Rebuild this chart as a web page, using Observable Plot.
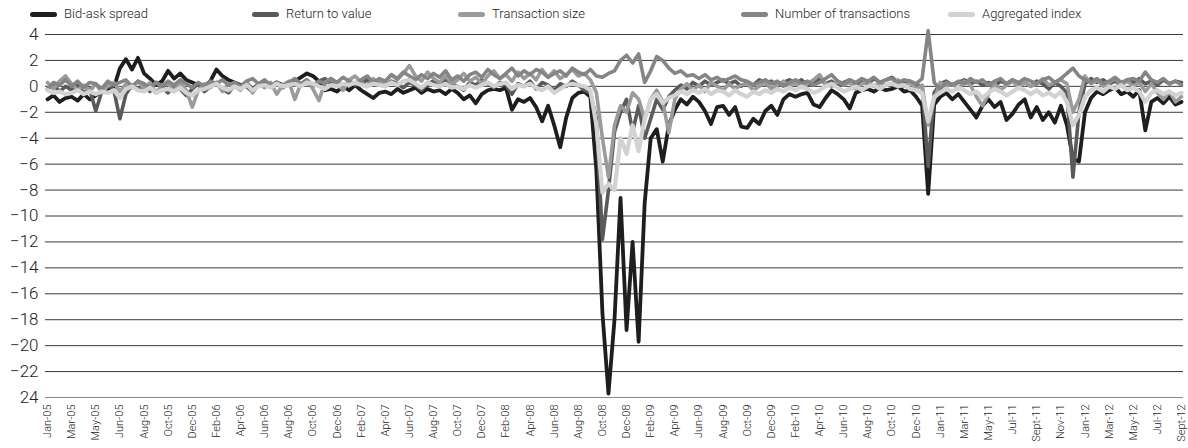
<!DOCTYPE html>
<html><head><meta charset="utf-8">
<script src="https://cdn.jsdelivr.net/npm/d3@7"></script>
<script src="https://cdn.jsdelivr.net/npm/@observablehq/plot@0.6"></script>
<style>
body{margin:0;background:#fff;font-family:Roboto,"Open Sans",sans-serif;}
#wrap{position:relative;width:1188px;height:448px;overflow:hidden;}
#legend{position:absolute;top:0;left:0;width:1188px;height:30px;z-index:2;}
.item{position:absolute;top:6px;display:flex;align-items:center;font-size:13px;line-height:16px;color:#222;font-weight:300;white-space:nowrap;}
.sw{width:27px;height:5px;border-radius:3px;margin-right:7px;}
#chart{position:absolute;top:0;left:0;}
</style></head><body>
<div id="wrap"><div id="legend"></div><div id="chart"></div></div>
<script>
const xLabels = ["Jan-05","Mar-05","May-05","Jun-05","Aug-05","Oct-05","Dec-05","Feb-06","Apr-06","Jun-06","Aug-06","Oct-06","Dec-06","Feb-07","Apr-07","Jun-07","Aug-07","Oct-07","Dec-07","Feb-08","Apr-08","Jun-08","Aug-08","Oct-08","Dec-08","Feb-09","Apr-09","Jun-09","Aug-09","Oct-09","Dec-09","Feb-10","Apr-10","Jun-10","Aug-10","Oct-10","Dec-10","Jan-11","Mar-11","May-11","Jul-11","Sept-11","Nov-11","Jan-12","Mar-12","May-12","Jul-12","Sept-12"];
const yTicks = [4,2,0,-2,-4,-6,-8,-10,-12,-14,-16,-18,-20,-22,-24];
const yTickLabels = ["4","2","0","\u22122","\u22124","\u22126","\u22128","\u221210","\u221212","\u221214","\u221216","\u221218","\u221220","\u221222","24"];
const seriesNames = ["Bid-ask spread","Return to value","Transaction size","Number of transactions","Aggregated index"];
const seriesColors = ["#1e1e1e","#5a5a5a","#9b9b9b","#858585","#d2d2d2"];
const legendLeft = [30, 252, 458, 741, 948];

// values sampled every quarter of a label interval
const bidAsk = [
-1.0,-0.7,-1.2,-0.9, -0.8,-1.1,-0.6,-1.0, -0.7,-0.4,-0.2,-0.1, 1.4,2.1,1.3,2.2,
1.0,0.6,0.1,0.4, 1.2,0.6,1.0,0.5, 0.3,0.1,0.0,0.4, 1.3,0.8,0.5,0.3,
0.1,0.0,-0.4,0.1, 0.2,0.0,0.3,0.1, 0.1,0.4,0.7,1.0, 0.8,0.4,-0.3,-0.2,
-0.4,0.0,-0.3,0.1, -0.3,-0.6,-0.9,-0.5, -0.4,-0.6,-0.2,-0.5, -0.3,-0.1,-0.5,-0.2,
-0.4,-0.3,-0.6,-0.2, -0.5,-1.0,-0.7,-1.3, -0.6,-0.3,-0.2,-0.3, -0.1,-1.8,-1.0,-1.2,
-0.9,-1.6,-2.7,-1.5, -3.0,-4.7,-2.4,-0.9, -0.5,-0.4,-0.8,-6.5, -17.5,-23.7,-18.0,-8.6,
-18.8,-12.0,-19.7,-9.0, -4.0,-3.3,-5.8,-3.0, -1.8,-1.0,-1.4,-0.8, -1.2,-1.9,-2.9,-1.6,
-1.5,-2.2,-1.6,-3.1, -3.2,-2.5,-2.9,-1.9, -1.5,-2.2,-1.0,-0.6, -0.8,-0.6,-0.5,-1.4,
-1.6,-0.9,-0.3,-0.6, -1.0,-1.7,-0.5,-0.3, -0.2,-0.4,-0.1,-0.3, -0.2,0.0,-0.4,-0.3,
-0.8,-1.5,-8.3,-1.4, -0.8,-0.5,-1.0,-0.6, -1.2,-1.8,-2.4,-1.5, -1.0,-1.6,-1.2,-2.6,
-2.1,-1.4,-1.0,-2.4, -1.6,-2.6,-2.0,-2.8, -1.5,-3.0,-5.6,-5.8, -2.0,-0.9,-0.4,-0.6,
-0.3,-0.1,-0.6,-0.4, -0.8,-0.3,-3.4,-1.2, -0.9,-1.3,-0.8,-1.4, -1.2];
const returnToValue = [
-0.2,0.1,-0.4,0.0, -0.3,0.1,-0.5,-0.2, -1.9,-0.4,0.2,-0.3, -2.5,-0.6,0.1,-0.3,
0.2,-0.4,0.3,-0.1, -0.5,0.1,-0.2,-0.7, -0.2,0.2,-0.4,0.0, 0.3,-0.2,-0.5,0.1,
0.0,0.3,-0.2,0.2, 0.4,0.0,0.3,-0.1, 0.2,0.5,0.1,0.3, 0.0,0.4,0.6,0.2,
0.3,0.0,0.4,0.1, 0.2,0.5,0.1,0.3, 0.0,0.4,0.2,-0.1, 0.3,0.1,-0.3,0.2,
0.4,0.1,0.5,0.2, 0.0,-0.3,0.3,0.1, 0.5,0.2,-0.1,0.3, 0.1,-0.6,0.2,0.0,
0.4,-0.2,0.3,0.1, -0.3,0.2,0.0,0.4, 0.1,-0.3,-0.5,-2.5, -11.8,-8.0,-3.5,-2.0,
-1.0,-3.5,-1.5,-4.0, -2.5,-1.0,-1.8,-0.8, -0.3,0.1,-0.2,0.3, 0.0,0.4,0.1,0.3,
0.5,0.2,0.4,0.0, 0.3,0.1,0.5,0.2, 0.4,0.0,0.3,0.5, 0.2,0.5,0.1,0.3,
0.6,0.2,0.4,0.0, 0.3,0.5,0.1,0.4, 0.2,0.6,0.3,0.5, 0.7,0.3,0.2,0.4,
0.1,0.0,-6.2,-0.5, 0.2,0.4,0.1,0.3, 0.5,0.2,0.4,0.1, 0.3,0.0,0.4,0.2,
0.5,0.1,0.3,0.0, 0.4,0.2,-0.2,0.3, 0.0,-0.5,-7.0,-2.0, 0.2,0.6,0.3,0.5,
0.2,0.4,0.1,0.5, 0.3,0.6,0.2,0.4, 0.1,0.5,0.2,0.4, 0.3];
const transactionSize = [
0.3,-0.2,0.4,0.8, 0.2,-0.3,0.1,-0.4, 0.2,-0.5,0.0,0.3, -0.4,0.2,-0.1,0.4,
-0.2,0.3,-0.5,0.1, 0.2,-0.4,0.3,-0.3, -1.6,-0.3,0.2,-0.1, 0.3,-0.4,0.2,0.0,
-0.3,0.4,-0.5,0.2, -0.1,0.3,-0.6,0.1, 0.4,-1.0,0.2,0.5, -0.2,-1.1,0.3,0.6,
0.2,-0.3,0.5,0.8, 0.3,0.0,0.6,0.2, 0.4,0.9,0.5,1.0, 1.6,0.8,0.4,1.1,
0.6,0.3,0.8,0.2, 0.5,1.0,0.4,0.7, 0.2,0.8,1.2,0.6, 0.9,0.4,1.1,0.6,
1.0,0.5,1.3,0.7, 1.2,0.6,0.9,1.3, 0.8,1.0,0.5,-0.5, -4.0,-7.0,-3.0,-1.5,
-2.0,-0.5,-1.0,-2.5, -1.0,-0.3,-1.2,-3.6, -1.0,-0.2,0.2,-0.3, 0.1,-0.4,0.3,0.0,
-0.3,0.2,-0.2,0.1, 0.2,-0.3,0.0,0.3, -0.2,0.1,0.4,0.0, 0.3,-0.1,0.2,0.5,
0.9,0.2,0.0,0.4, 0.1,0.3,-0.2,0.2, 0.4,0.0,0.3,0.1, 0.2,0.5,0.0,0.3,
-0.2,0.1,-3.0,-1.0, 0.3,0.0,0.2,-0.2, 0.4,0.1,-0.8,-1.5, -0.6,0.2,-0.3,0.1,
0.4,-0.1,0.3,0.0, 0.2,0.6,0.1,0.3, 0.5,0.2,-2.0,-1.0, 0.8,0.2,0.5,0.0,
0.3,0.6,0.1,0.4, 0.0,0.3,-0.4,0.2, -0.5,-1.0,-0.4,-1.2, -0.8];
const numberOfTransactions = [
-0.2,0.3,0.1,0.5, 0.0,0.4,-0.1,0.3, 0.2,-0.2,0.4,0.1, 0.3,0.5,0.0,0.4,
0.2,-0.1,0.3,0.0, 0.4,0.1,0.5,0.2, -0.1,0.3,0.0,0.4, 0.2,0.5,0.1,0.3,
0.0,0.4,0.6,0.2, 0.5,0.1,0.3,0.0, 0.3,0.6,0.2,0.5, 0.1,0.4,0.2,0.6,
0.3,0.7,0.4,0.2, 0.5,0.8,0.3,0.6, 0.4,0.9,0.6,1.1, 0.8,0.5,0.9,0.6,
1.0,0.7,1.2,0.5, 0.8,0.4,0.9,1.1, 0.7,1.3,0.9,0.6, 1.0,1.4,0.8,1.2,
0.9,1.3,1.1,0.7, 1.0,1.2,0.8,1.4, 1.1,0.9,1.3,0.8, 0.7,1.0,1.2,2.0,
2.4,1.8,2.5,0.3, 1.2,2.3,2.0,1.4, 1.0,1.2,0.8,0.9, 0.6,0.9,0.5,0.7,
0.4,0.6,0.8,0.5, 0.4,0.1,0.3,0.5, 0.2,0.4,0.0,0.3, 0.5,0.2,0.4,0.1,
0.3,0.6,0.9,0.4, 0.2,0.5,0.3,0.6, 0.4,0.7,0.3,0.5, 0.6,0.3,0.5,0.4,
0.2,0.6,4.3,0.3, -0.2,0.3,0.1,0.4, 0.2,0.6,0.3,0.5, 0.1,0.4,0.6,0.2,
0.5,0.3,0.6,0.4, 0.2,0.5,0.7,0.3, 0.6,1.0,1.4,0.8, 0.5,0.3,0.6,0.2,
0.4,0.7,0.3,0.5, 0.6,0.4,1.1,0.5, 0.3,0.6,0.2,0.4, 0.1];
const aggregatedIndex = [
-0.3,-0.5,-0.4,-0.6, -0.5,-0.3,-0.6,-0.4, -0.6,-0.4,-0.5,-0.3, -0.9,-0.2,0.0,-0.3,
-0.4,-0.1,-0.5,-0.3, -0.2,-0.4,-0.1,-0.5, -0.7,-0.3,-0.2,0.0, 0.2,-0.1,-0.3,0.0,
-0.2,0.1,-0.3,0.0, 0.1,-0.1,0.2,0.0, 0.1,0.2,0.0,0.3, 0.2,0.0,-0.2,0.1,
0.0,0.2,0.1,0.3, 0.1,0.0,0.2,0.1, 0.0,0.3,0.1,0.4, 0.5,0.2,-0.1,0.3,
0.1,0.0,0.2,-0.1, 0.0,-0.2,0.1,-0.1, 0.1,0.3,0.0,0.2, 0.3,-0.2,0.1,0.0,
0.2,-0.1,-0.3,0.0, -0.5,-0.2,0.1,0.2, 0.1,0.0,-0.3,-3.0, -8.2,-7.5,-8.0,-4.0,
-5.2,-3.0,-5.0,-2.5, -1.0,-0.6,-1.3,-0.9, -0.7,-0.4,-0.6,-0.3, -0.5,-0.2,-0.6,-0.3,
-0.4,-0.7,-0.3,-0.6, -0.8,-0.4,-0.6,-0.3, -0.5,-0.2,-0.4,-0.1, -0.3,0.0,-0.2,-0.5,
-0.3,0.0,0.2,-0.1, -0.4,-0.2,0.0,-0.3, 0.0,0.1,-0.2,0.1, 0.2,0.0,0.1,-0.2,
-0.3,-0.5,-2.7,-0.8, -0.5,-0.2,-0.4,-0.1, -0.3,-0.6,-0.4,-0.9, -0.5,-0.2,-0.4,-0.7,
-0.4,-0.1,-0.3,-0.6, -0.3,-0.7,-0.5,-0.8, -0.4,-1.2,-3.0,-2.2, -0.8,-0.3,-0.1,-0.4,
0.0,-0.2,0.1,-0.3, -0.1,-0.4,-1.2,-0.5, -0.3,-0.6,-0.4,-0.7, -0.5];

const allSeries = [bidAsk, returnToValue, transactionSize, numberOfTransactions, aggregatedIndex];
const widths = [3.8, 3.6, 3.6, 3.6, 4.2];
const step = 0.25;
const tables = allSeries.map(vals => vals.map((v, i) => ({t: i * step, v})));

// legend
const legend = document.getElementById("legend");
seriesNames.forEach((name, i) => {
  const it = document.createElement("div");
  it.className = "item";
  it.style.left = legendLeft[i] + "px";
  it.innerHTML = `<span class="sw" style="background:${seriesColors[i]}"></span><span>${name}</span>`;
  legend.appendChild(it);
});

const chart = Plot.plot({
  width: 1188, height: 448,
  marginTop: 34, marginBottom: 51, marginLeft: 45, marginRight: 5,
  style: {fontFamily: "Roboto, 'Open Sans', sans-serif", color: "#222", background: "transparent"},
  x: {domain: [0, xLabels.length - 1], insetLeft: 2, insetRight: 2},
  y: {domain: [-24, 4]},
  marks: [
    Plot.ruleY(yTicks, {stroke: (d) => d === -24 ? "#888" : "#3a3a3a", strokeWidth: 1}),
    Plot.axisY(yTicks, {tickSize: 0, tickPadding: 7, fontSize: 17, fontWeight: 300, tickFormat: (d) => yTickLabels[yTicks.indexOf(d)], label: null}),
    Plot.axisX(d3.range(xLabels.length), {tickSize: 0, tickPadding: 7, tickRotate: -90, fontSize: 11, fontWeight: 300, tickFormat: (i) => xLabels[i], label: null}),
    ...tables.map((tb, s) => Plot.line(tb, {x: "t", y: "v", stroke: seriesColors[s], strokeWidth: widths[s], strokeLinejoin: "round", strokeLinecap: "round"}))
  ]
});
document.getElementById("chart").appendChild(chart);
</script>
</body></html>
